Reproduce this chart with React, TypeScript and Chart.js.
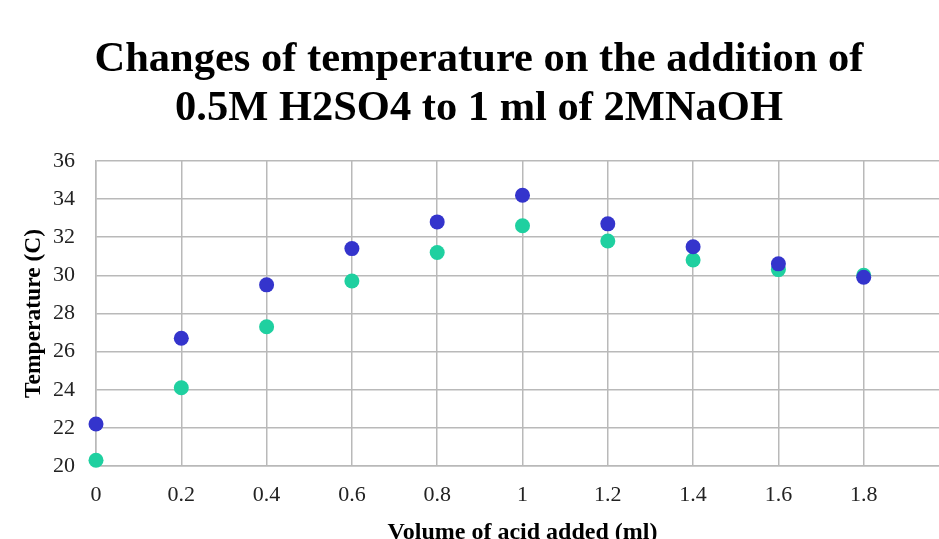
import React, { useEffect, useRef } from "react";
import { Chart, registerables } from "chart.js";

Chart.register(...registerables);

const volumes = [0, 0.2, 0.4, 0.6, 0.8, 1.0, 1.2, 1.4, 1.6, 1.8];
const trialA = [22.2, 26.7, 29.5, 31.4, 32.8, 34.2, 32.7, 31.5, 30.6, 29.9];
const trialB = [20.3, 24.1, 27.3, 29.7, 31.2, 32.6, 31.8, 30.8, 30.3, 30.0];
const titleLines = [
  "Changes of temperature on the addition of",
  "0.5M H2SO4 to 1 ml of 2MNaOH",
];
const xTitle = "Volume of acid added (ml)";
const yTitle = "Temperature (C)";

const FONT = "'Liberation Serif', 'Times New Roman', serif";
const GRID = "#b9b9b9";

export default function App() {
  const ref = useRef<HTMLCanvasElement>(null);
  useEffect(() => {
    if (!ref.current) return;
    const chart = new Chart(ref.current, {
      type: "scatter",
      data: {
        datasets: [
          {
            label: "Trial 1",
            data: volumes.map((x, i) => ({ x, y: trialA[i] })),
            backgroundColor: "#3434cc",
            borderColor: "#3434cc",
            pointRadius: 7.5,
            borderWidth: 0,
            clip: false,
          },
          {
            label: "Trial 2",
            data: volumes.map((x, i) => ({ x, y: trialB[i] })),
            backgroundColor: "#1fd0a0",
            borderColor: "#1fd0a0",
            pointRadius: 7.5,
            borderWidth: 0,
            clip: false,
          },
        ],
      },
      options: {
        responsive: false,
        animation: false,
        layout: { padding: { left: 0, right: 7, top: 0, bottom: 0 } },
        plugins: {
          legend: { display: false },
          tooltip: { enabled: false },
          title: {
            display: true,
            text: titleLines,
            color: "#000",
            font: { family: FONT, size: 42.5, weight: "bold", lineHeight: 1.14 },
            padding: { top: 36, bottom: 28 },
          },
        },
        scales: {
          x: {
            type: "linear",
            min: 0,
            max: 2,
            afterFit: (s: any) => {
              s.height = 84;
            },
            ticks: {
              stepSize: 0.2,
              padding: 16,
              color: "#222",
              font: { family: FONT, size: 22 },
              callback: (v: any) => (Number(v) > 1.9 ? "" : String(Math.round(Number(v) * 10) / 10)),
              maxRotation: 0,
              autoSkip: false,
            },
            grid: { color: GRID, lineWidth: 1.5, drawTicks: false },
            border: { color: GRID, width: 1.5 },
            title: {
              display: true,
              text: xTitle,
              color: "#000",
              font: { family: FONT, size: 24, weight: "bold" },
              padding: { top: 0, bottom: 3 },
            },
          },
          y: {
            type: "linear",
            min: 20,
            max: 36,
            afterFit: (s: any) => {
              s.width = 96;
            },
            ticks: {
              stepSize: 2,
              padding: 21,
              color: "#222",
              font: { family: FONT, size: 22 },
            },
            grid: { color: GRID, lineWidth: 1.5, drawTicks: false },
            border: { color: GRID, width: 1.5 },
            title: {
              display: true,
              text: yTitle,
              color: "#000",
              font: { family: FONT, size: 23.5, weight: "bold" },
              padding: { top: 20, bottom: 0 },
            },
          },
        },
      },
    });
    return () => chart.destroy();
  }, []);
  return (
    <div
      style={{
        position: "fixed",
        left: 0,
        top: 0,
        width: 939,
        height: 539,
        overflow: "hidden",
        background: "#fff",
      }}
    >
      <canvas ref={ref} width={965} height={550} style={{ display: "block" }} />
    </div>
  );
}
